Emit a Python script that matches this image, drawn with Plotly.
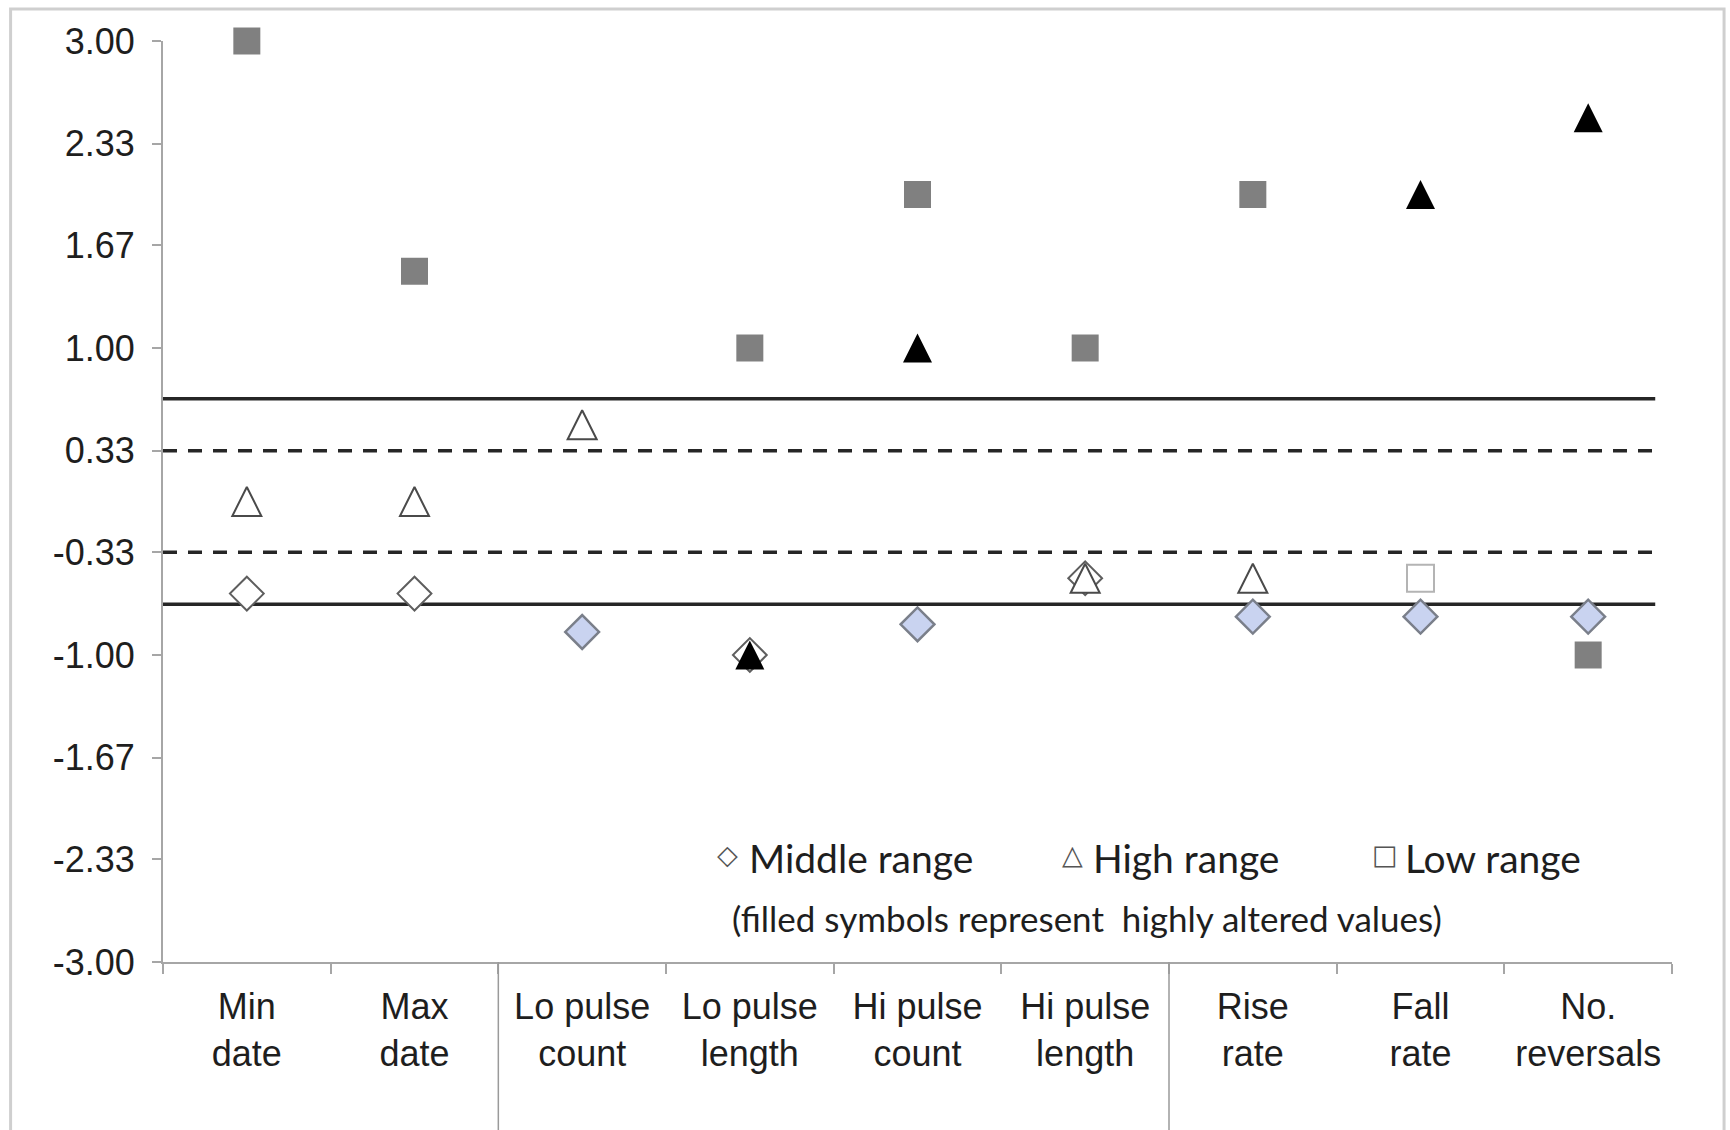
import plotly.graph_objects as go

# Flow-metric categories (x axis)
categories = ["Min<br>date", "Max<br>date", "Lo pulse<br>count", "Lo pulse<br>length",
              "Hi pulse<br>count", "Hi pulse<br>length", "Rise<br>rate", "Fall<br>rate",
              "No.<br>reversals"]

# Standardised deviation values per range; *_altered flags mark highly altered values
middle_vals = [-0.60, -0.60, -0.85, -1.00, -0.80, -0.50, -0.75, -0.75, -0.75]
middle_altered = [False, False, True, False, True, False, True, True, True]

high_vals = [0.00, 0.00, 0.50, -1.00, 1.00, -0.50, -0.50, 2.00, 2.50]
high_altered = [False, False, False, True, True, False, False, True, True]

low_vals = [3.00, 1.50, None, 1.00, 2.00, 1.00, 2.00, -0.50, -1.00]
low_altered = [True, True, None, True, True, True, True, False, True]

# Y axis ticks
tick_vals = [3.00, 2.33, 1.67, 1.00, 0.33, -0.33, -1.00, -1.67, -2.33, -3.00]
tick_text = ["3.00", "2.33", "1.67", "1.00", "0.33", "-0.33", "-1.00", "-1.67", "-2.33", "-3.00"]

# Threshold bands
solid_limits = [0.67, -0.67]
dashed_limits = [0.33, -0.33]

# Boundaries between metric groups
group_breaks = [1.5, 5.5]

fig = go.Figure()


def split(vals, flags, want):
    xs, ys = [], []
    for c, v, f in zip(categories, vals, flags):
        if v is not None and f == want:
            xs.append(c)
            ys.append(v)
    return xs, ys


def add_series(vals, flags, marker_base, open_style, filled_style):
    for want, style in ((False, open_style), (True, filled_style)):
        xs, ys = split(vals, flags, want)
        marker = dict(marker_base)
        marker.update(color=style[0], line=dict(color=style[1], width=style[2]))
        fig.add_trace(go.Scatter(
            x=xs, y=ys, mode="markers", showlegend=False, hoverinfo="x+y",
            cliponaxis=False, marker=marker))


# Draw order: squares, diamonds, triangles on top
add_series(low_vals, low_altered, dict(symbol="square", size=27),
           ("white", "#b4b4b4", 2), ("#808080", "#808080", 0))
add_series(middle_vals, middle_altered, dict(symbol="diamond", size=26),
           ("white", "#5e5e5e", 2), ("#c9d3f0", "#7a7f8a", 2.5))
# upright triangle centred on the point (arrow head turned over, pulled back half its size)
tri = dict(symbol="arrow-down", size=29, angle=180, standoff=14.5)
add_series(high_vals, high_altered, tri,
           ("white", "#4a4a4a", 2), ("black", "black", 0))

shapes = []
for v in solid_limits:
    shapes.append(dict(type="line", xref="x", yref="y", x0=-0.5, x1=8.4, y0=v, y1=v,
                       line=dict(color="#262626", width=3.5), layer="below"))
for v in dashed_limits:
    shapes.append(dict(type="line", xref="x", yref="y", x0=-0.5, x1=8.4, y0=v, y1=v,
                       line=dict(color="#262626", width=3.5, dash="14px,11px"), layer="below"))
for b in group_breaks:
    shapes.append(dict(type="line", xref="x", yref="paper", x0=b, x1=b, y0=0, y1=-0.3,
                       line=dict(color="#9a9a9a", width=1.5)))
# Outer frame of the chart
shapes.append(dict(type="rect", xref="paper", yref="paper",
                   x0=-0.101, x1=1.0345, y0=-0.3, y1=1.0347,
                   line=dict(color="#cfcfcf", width=3), fillcolor="rgba(0,0,0,0)"))

legend_font = dict(family="Lato, Liberation Sans, sans-serif", size=39, color="#1e1e1e")
sym_font = dict(family="DejaVu Sans, sans-serif", size=27, color="#555555")

annotations = []
legend_items = [("◇", "Middle range", 0.374, 0.387),
                ("△", "High range", 0.603, 0.615),
                ("□", "Low range", 0.810, 0.822)]
for sym, label, xs, xt in legend_items:
    annotations.append(dict(text=sym, xref="paper", yref="paper", x=xs, y=0.117,
                            xanchor="center", yanchor="middle", showarrow=False, font=sym_font))
    annotations.append(dict(text=label, xref="paper", yref="paper", x=xt, y=0.113,
                            xanchor="left", yanchor="middle", showarrow=False, font=legend_font))
annotations.append(dict(text="(filled symbols represent  highly altered values)",
                        xref="paper", yref="paper", x=0.376, y=0.048,
                        xanchor="left", yanchor="middle", showarrow=False,
                        font=dict(family="Lato, Liberation Sans, sans-serif", size=35,
                                  color="#1e1e1e")))

axis_font = dict(family="Liberation Sans, Arial, sans-serif", size=36, color="#1e1e1e")

fig.update_layout(
    width=1730, height=1130,
    margin=dict(l=163, r=58, t=41, b=168),
    paper_bgcolor="white", plot_bgcolor="white",
    shapes=shapes, annotations=annotations,
    xaxis=dict(type="category", categoryorder="array", categoryarray=categories,
               range=[-0.5, 8.5], showgrid=False, zeroline=False,
               showline=True, linecolor="#a6a6a6", linewidth=2,
               ticks="outside", tickson="boundaries", ticklen=10, tickwidth=1.5,
               tickcolor="#a6a6a6", tickfont=axis_font, ticklabelstandoff=12),
    yaxis=dict(range=[-3, 3], tickvals=tick_vals, ticktext=tick_text,
               showgrid=False, zeroline=False, showline=True, linecolor="#a6a6a6",
               linewidth=2, ticks="outside", ticklen=9, tickwidth=1.5,
               tickcolor="#a6a6a6", tickfont=axis_font, ticklabelstandoff=10),
)

fig.write_html("out.html")
